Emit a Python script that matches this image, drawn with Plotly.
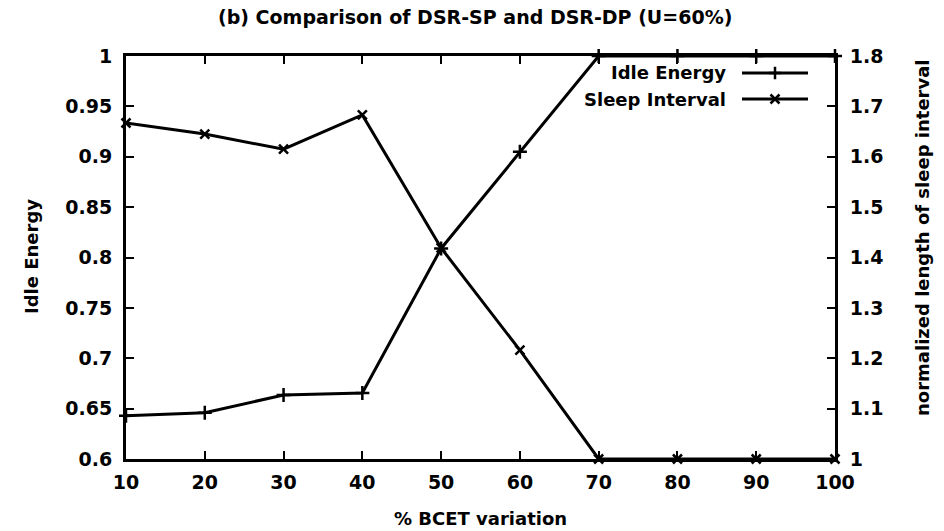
import plotly.graph_objects as go

# ---- data ----
bcet_variation = [10, 20, 30, 40, 50, 60, 70, 80, 90, 100]
idle_energy = [0.643, 0.646, 0.6635, 0.6655, 0.809, 0.905, 1.0, 1.0, 1.0, 1.0]
sleep_interval = [1.667, 1.645, 1.615, 1.683, 1.419, 1.216, 1.0, 1.0, 1.0, 1.0]

x_ticks = [10, 20, 30, 40, 50, 60, 70, 80, 90, 100]
left_ticks = [0.6, 0.65, 0.7, 0.75, 0.8, 0.85, 0.9, 0.95, 1.0]
left_ticktext = ["0.6", "0.65", "0.7", "0.75", "0.8", "0.85", "0.9", "0.95", "1"]
right_ticks = [1.0, 1.1, 1.2, 1.3, 1.4, 1.5, 1.6, 1.7, 1.8]
right_ticktext = ["1", "1.1", "1.2", "1.3", "1.4", "1.5", "1.6", "1.7", "1.8"]

title_text = "(b) Comparison of DSR-SP and DSR-DP (U=60%)"
series_names = ["Idle Energy", "Sleep Interval"]

# ---- layout geometry (page pixels) ----
W, H = 944, 531
L, R, T, B = 126, 835, 56, 459
pw, ph = R - L, B - T


def px(x):
    return (x - L) / pw


def py(y):
    return (B - y) / ph


FONT = "DejaVu Sans"
fnt = dict(family=FONT, size=19, color="black", weight="bold")
leg_fnt = dict(family=FONT, size=18, color="black", weight="bold")

fig = go.Figure()

fig.add_trace(go.Scatter(
    x=bcet_variation, y=idle_energy, name=series_names[0], mode="lines+markers",
    line=dict(color="black", width=3),
    marker=dict(symbol="cross-thin", size=10, line=dict(color="black", width=2.5)),
    cliponaxis=False, showlegend=False,
))
fig.add_trace(go.Scatter(
    x=bcet_variation, y=sleep_interval, name=series_names[1], mode="lines+markers",
    yaxis="y2",
    line=dict(color="black", width=3),
    marker=dict(symbol="x-thin", size=9, line=dict(color="black", width=2.5)),
    cliponaxis=False, showlegend=False,
))

# custom legend (text right aligned, sample on the right, gnuplot style)
leg_items = [(series_names[0], 73, "cross-thin"), (series_names[1], 99, "x-thin")]
annotations = []
for name, yy, sym in leg_items:
    annotations.append(dict(
        x=px(728), y=py(yy), xref="paper", yref="paper", text=name,
        showarrow=False, xanchor="right", yanchor="middle", font=leg_fnt,
    ))
    fig.add_shape(type="line", xref="paper", yref="paper",
                  x0=px(742), x1=px(808), y0=py(yy), y1=py(yy),
                  line=dict(color="black", width=3))
    fig.add_trace(go.Scatter(
        x=[px(775)], y=[py(yy)], xaxis="x3", yaxis="y3", mode="markers",
        marker=dict(symbol=sym, size=9, line=dict(color="black", width=2.5)),
        showlegend=False, hoverinfo="skip", cliponaxis=False,
    ))

# title and axis titles
annotations += [
    dict(x=px(475), y=py(17), xref="paper", yref="paper", text=title_text,
         showarrow=False, xanchor="center", yanchor="middle",
         font=dict(family=FONT, size=19, color="black", weight="bold")),
    dict(x=px(480), y=py(518), xref="paper", yref="paper", text="% BCET variation",
         showarrow=False, xanchor="center", yanchor="middle", font=leg_fnt),
    dict(x=px(31), y=py(256), xref="paper", yref="paper", text="Idle Energy",
         showarrow=False, xanchor="center", yanchor="middle", textangle=-90, font=leg_fnt),
    dict(x=px(922), y=py(238), xref="paper", yref="paper",
         text="normalized length of sleep interval",
         showarrow=False, xanchor="center", yanchor="middle", textangle=-90, font=leg_fnt),
]

axis_common = dict(
    showgrid=False, zeroline=False, showline=True, linecolor="black", linewidth=3,
    ticks="inside", ticklen=8, tickwidth=2, tickcolor="black", tickfont=fnt,
)

fig.update_layout(
    width=W, height=H,
    margin=dict(l=L, r=W - R, t=T, b=H - B, pad=0),
    paper_bgcolor="white", plot_bgcolor="white",
    showlegend=False,
    annotations=annotations,
    xaxis=dict(range=[10, 100], tickvals=x_ticks, ticktext=[str(v) for v in x_ticks],
               mirror="ticks", ticklabelstandoff=4, **axis_common),
    yaxis=dict(range=[0.6, 1.0], tickvals=left_ticks, ticktext=left_ticktext,
               mirror=True, ticklabelstandoff=7, **axis_common),
    yaxis2=dict(range=[1.0, 1.8], tickvals=right_ticks, ticktext=right_ticktext,
                overlaying="y", side="right", ticklabelstandoff=8, **axis_common),
    xaxis3=dict(range=[0, 1], overlaying="x", visible=False, fixedrange=True),
    yaxis3=dict(range=[0, 1], overlaying="y", visible=False, fixedrange=True),
)

fig.write_html(
    "out.html",
    config={"displayModeBar": False},
    post_script="document.body.style.margin='0';document.body.style.padding='0';",
)
